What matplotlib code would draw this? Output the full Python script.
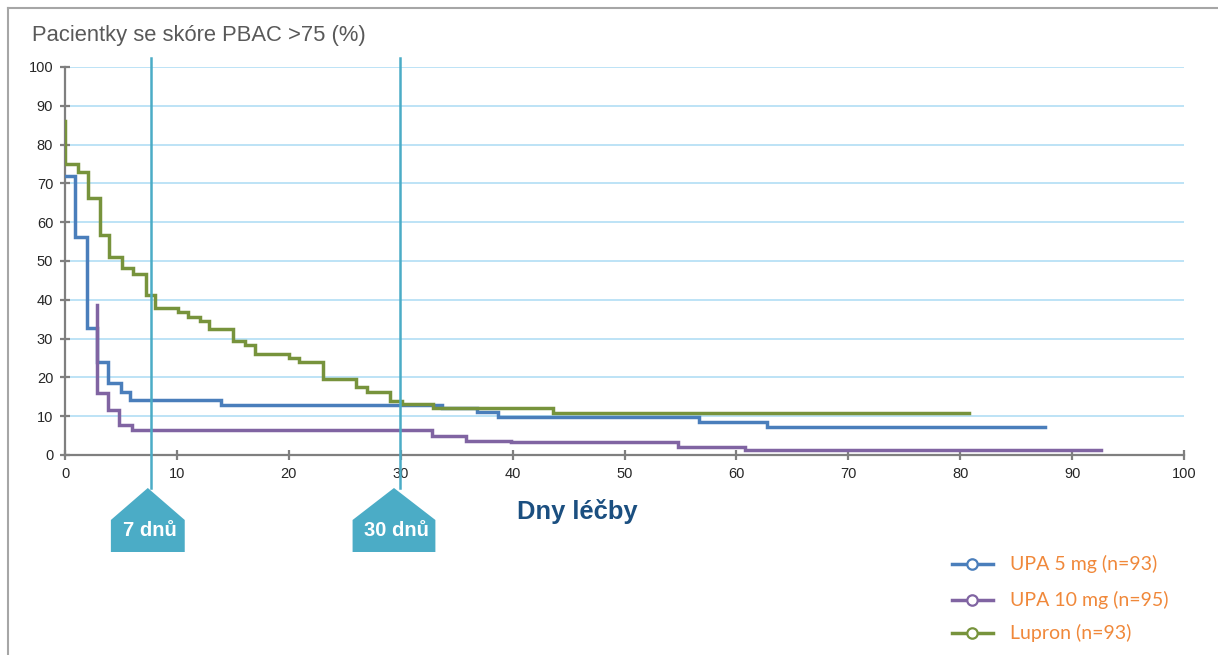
import matplotlib
matplotlib.use("Agg")
import matplotlib.pyplot as plt
from matplotlib.lines import Line2D
from matplotlib.patches import Polygon
from matplotlib.transforms import blended_transform_factory

plt.rcParams['font.family'] = ['Liberation Sans', 'DejaVu Sans']

# Kaplan-Meier style step data: day of treatment vs. % patients with PBAC > 75
upa5_days = [0, 0.9, 1.95, 2.9, 3.8, 5.0, 5.8, 13.9, 33.7, 36.8, 38.7, 56.7, 62.7, 87.6]
upa5_pct = [71.9, 56.2, 32.7, 24.0, 18.6, 16.2, 14.2, 12.9, 12.0, 11.0, 9.9, 8.6, 7.3, 7.3]

upa10_days = [2.9, 2.9, 3.8, 4.8, 6.0, 32.8, 35.8, 39.9, 54.8, 60.8, 92.6]
upa10_pct = [38.7, 16.1, 11.6, 7.7, 6.4, 5.0, 3.7, 3.3, 2.1, 1.3, 1.3]

lupron_days = [0, 0, 1.2, 2.1, 3.1, 3.9, 5.1, 6.1, 7.2, 8.0, 10.1, 11.0, 12.1, 12.9,
               15.0, 16.1, 17.0, 20.0, 20.9, 23.1, 26.0, 27.0, 29.0, 30.1, 32.9, 43.6, 80.8]
lupron_pct = [86, 75, 72.9, 66.2, 56.7, 51.0, 48.2, 46.6, 41.2, 37.9, 36.8, 35.6, 34.5, 32.4,
              29.4, 28.4, 26.0, 25.0, 24.0, 19.6, 17.5, 16.2, 13.9, 13.1, 12.1, 10.7, 10.7]

series_labels = ["UPA 5 mg (n=93)", "UPA 10 mg (n=95)", "Lupron (n=93)"]
series_colors = ["#4a7ebb", "#8064a2", "#77933c"]

marker_days = [7.7, 29.9]
marker_labels = ["7 dnů", "30 dnů"]

y_ticks = list(range(0, 101, 10))
x_ticks = list(range(0, 101, 10))

W, H = 1218, 655
fig = plt.figure(figsize=(W / 100, H / 100), dpi=100)
fig.patch.set_facecolor("white")

# outer frame (top and left edges)
fig.add_artist(Line2D([8 / W, 8 / W], [0, 1 - 8 / H], transform=fig.transFigure,
                      color="#a6a6a6", lw=1.5))
fig.add_artist(Line2D([8 / W, 1], [1 - 8 / H, 1 - 8 / H], transform=fig.transFigure,
                      color="#a6a6a6", lw=1.5))

ax_l, ax_r, ax_b, ax_t = 65, 1184, 455, 67
ax = fig.add_axes([ax_l / W, 1 - ax_b / H, (ax_r - ax_l) / W, (ax_b - ax_t) / H])
ax.set_xlim(0, 100)
ax.set_ylim(0, 100)

for s in ["top", "right"]:
    ax.spines[s].set_visible(False)
for s in ["left", "bottom"]:
    ax.spines[s].set_color("#7f7f7f")
    ax.spines[s].set_linewidth(1.6)

ax.set_yticks(y_ticks)
ax.set_xticks(x_ticks)
ax.tick_params(axis="both", direction="inout", length=7, width=1.6, color="#7f7f7f",
               labelsize=10.5, labelcolor="#262626")
ax.tick_params(axis="y", pad=5)
ax.tick_params(axis="x", pad=5)

for yv in y_ticks[1:]:
    ax.axhline(yv, color="#bde3f6", lw=1.4, zorder=0)

for days, pct, col in zip([upa5_days, upa10_days, lupron_days],
                          [upa5_pct, upa10_pct, lupron_pct], series_colors):
    ax.plot(days, pct, drawstyle="steps-post", color=col, lw=2.5,
            solid_joinstyle="miter", zorder=3)

# day markers: vertical reference lines with pentagon tags below the axis
bt = blended_transform_factory(ax.transData, ax.transAxes)
tag_centers = [7.4, 29.4]
tag_half = [3.3, 3.7]
for xd, xc, hw, lab in zip(marker_days, tag_centers, tag_half, marker_labels):
    ax.add_line(Line2D([xd, xd], [1.023, -0.085], transform=bt, color="#4bacc6",
                       lw=1.8, clip_on=False, zorder=4))
    poly = Polygon([(xc, -0.085), (xc + hw, -0.1675), (xc + hw, -0.25),
                    (xc - hw, -0.25), (xc - hw, -0.1675)], closed=True,
                   transform=bt, facecolor="#4bacc6", edgecolor="none",
                   clip_on=False, zorder=4)
    ax.add_patch(poly)
    ax.text(xc + 0.2, -0.195, lab, transform=bt, ha="center", va="center",
            color="white", fontsize=14.5, fontweight="bold", zorder=5)

fig.text(577 / W, 1 - 512 / H, "Dny léčby", ha="center", va="center",
         fontsize=18.4, fontweight="bold", color="#1b4f80")

fig.text(32 / W, 1 - 36 / H, "Pacientky se skóre PBAC >75 (%)", ha="left", va="center",
         fontsize=15.8, color="#595959")

# legend
leg_rows = [564, 600, 633]
for yrow, lab, col in zip(leg_rows, series_labels, series_colors):
    yf = 1 - yrow / H
    fig.add_artist(Line2D([952 / W, 993 / W], [yf, yf], transform=fig.transFigure,
                          color=col, lw=2.5))
    fig.add_artist(Line2D([972 / W], [yf], transform=fig.transFigure, color=col,
                          marker="o", markersize=7.5, markerfacecolor="white",
                          markeredgewidth=1.6, linestyle="none"))
    fig.text(1010 / W, yf, lab, ha="left", va="center", fontsize=14,
             color="#f0883a", family=["Lato", "DejaVu Sans"])

fig.savefig("out.png", dpi=100)
